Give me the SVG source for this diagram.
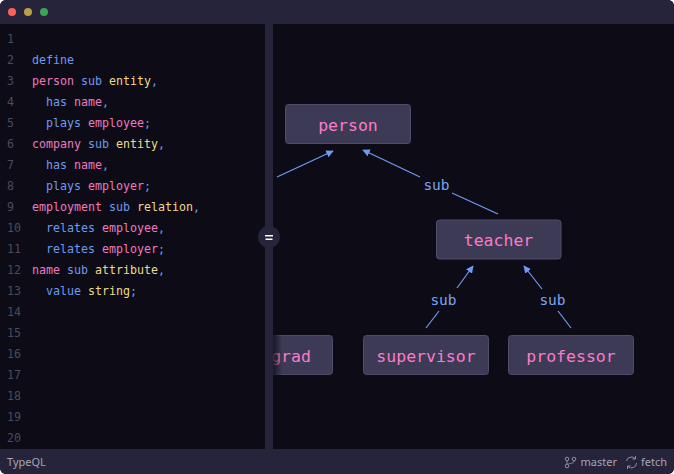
<svg xmlns="http://www.w3.org/2000/svg" width="674" height="474" viewBox="0 0 674 474">
<style>
text{font-family:"DejaVu Sans Mono","Liberation Mono",monospace}
.ln{font-size:11.63px;fill:#4b4a5c}
.code{font-size:11.63px;fill:#7099ee}
.p{fill:#ee78c0}.y{fill:#efd88e}
.box{fill:#3d3a56;stroke:#4f4c68;stroke-width:1}
.nt{font-size:16.5px;fill:#f97cc8;text-anchor:middle}
.el{font-size:14.5px;fill:#7ba3f5;text-anchor:middle}
.edge{stroke:#6f9bf5;stroke-width:1.2;fill:none;marker-end:url(#arr)}
.seg{stroke:#6f9bf5;stroke-width:1.2;fill:none}
.st{font-family:"Noto Sans","Open Sans",sans-serif;font-size:11px;fill:#a6a5b5}
.ic{stroke:#8f8ea0;stroke-width:1;fill:none}
</style>
<defs>
<marker id="arr" viewBox="0 0 10 10" refX="9" refY="5" markerWidth="7.500" markerHeight="7.500" markerUnits="userSpaceOnUse" orient="auto"><path d="M0 0L10 5L0 10Z" fill="#6f9bf5"/></marker>
<linearGradient id="fade" x1="0" x2="1" y1="0" y2="0"><stop offset="0" stop-color="#0e0d17" stop-opacity=".8"/><stop offset="1" stop-color="#0e0d17" stop-opacity="0"/></linearGradient>
<clipPath id="win"><rect x="0" y="0" width="674" height="474" rx="6"/></clipPath>
</defs>
<rect width="674" height="474" fill="#fff"/>
<g clip-path="url(#win)">
<rect width="674" height="474" fill="#0d0c16"/>
<rect width="674" height="24" fill="#25243a"/>
<rect y="449" width="674" height="25" fill="#25243a"/>
<circle cx="12" cy="12" r="4" fill="#ff5f57"/>
<circle cx="28" cy="12" r="4" fill="#bd9e45"/>
<circle cx="44" cy="12" r="4" fill="#3fa355"/>
</g>
<g id="gutter">
<text class="ln" x="7" y="43">1</text><text class="ln" x="7" y="64">2</text><text class="ln" x="7" y="85">3</text><text class="ln" x="7" y="106">4</text><text class="ln" x="7" y="127">5</text><text class="ln" x="7" y="148">6</text><text class="ln" x="7" y="169">7</text><text class="ln" x="7" y="190">8</text><text class="ln" x="7" y="211">9</text><text class="ln" x="7" y="232">10</text><text class="ln" x="7" y="253">11</text><text class="ln" x="7" y="274">12</text><text class="ln" x="7" y="295">13</text><text class="ln" x="7" y="316">14</text><text class="ln" x="7" y="337">15</text><text class="ln" x="7" y="358">16</text><text class="ln" x="7" y="379">17</text><text class="ln" x="7" y="400">18</text><text class="ln" x="7" y="421">19</text><text class="ln" x="7" y="442">20</text>
</g>
<g id="code">
<text class="code" x="32" y="64">define</text>
<text class="code" x="32" y="85"><tspan class="p">person</tspan> sub <tspan class="y">entity</tspan>,</text>
<text class="code" x="46" y="106">has <tspan class="p">name</tspan>,</text>
<text class="code" x="46" y="127">plays <tspan class="p">employee</tspan>;</text>
<text class="code" x="32" y="148"><tspan class="p">company</tspan> sub <tspan class="y">entity</tspan>,</text>
<text class="code" x="46" y="169">has <tspan class="p">name</tspan>,</text>
<text class="code" x="46" y="190">plays <tspan class="p">employer</tspan>;</text>
<text class="code" x="32" y="211"><tspan class="p">employment</tspan> sub <tspan class="y">relation</tspan>,</text>
<text class="code" x="46" y="232">relates <tspan class="p">employee</tspan>,</text>
<text class="code" x="46" y="253">relates <tspan class="p">employer</tspan>;</text>
<text class="code" x="32" y="274"><tspan class="p">name</tspan> sub <tspan class="y">attribute</tspan>,</text>
<text class="code" x="46" y="295">value <tspan class="y">string</tspan>;</text>
</g>
<g id="connectors">
<path class="edge" d="M277 177L333 151"/>
<path class="edge" d="M420 177L363 150"/>
<path class="seg" d="M452 193L498 214"/>
<path class="edge" d="M457 288L473 266"/>
<path class="seg" d="M426 328L439 311"/>
<path class="edge" d="M542 289L524 266"/>
<path class="seg" d="M558 311L571 328"/>
<text class="el" x="436.500" y="190">sub</text>
<text class="el" x="443.500" y="305">sub</text>
<text class="el" x="552.500" y="305">sub</text>
</g>
<g id="node-person"><rect class="box" x="285.500" y="104.500" width="125" height="39" rx="3"/><text class="nt" x="348" y="131">person</text></g>
<g id="node-teacher"><rect class="box" x="436.500" y="220" width="124.500" height="39" rx="3"/><text class="nt" x="498.500" y="246">teacher</text></g>
<g id="node-grad"><path class="box" d="M273 335.500H329.500a3 3 0 0 1 3 3V371.500a3 3 0 0 1-3 3H273Z"/><text class="nt" x="291" y="362">grad</text><rect x="273" y="335" width="9" height="40" fill="url(#fade)"/></g>
<g id="node-supervisor"><rect class="box" x="363.500" y="335.500" width="125" height="39" rx="3"/><text class="nt" x="426" y="362">supervisor</text></g>
<g id="node-professor"><rect class="box" x="508.500" y="335.500" width="125" height="39" rx="3"/><text class="nt" x="571" y="362">professor</text></g>
<g id="separator">
<rect x="265" y="24" width="8" height="425" fill="#25243a"/>
<circle cx="269" cy="237" r="11" fill="#25243a"/>
<rect x="265" y="235" width="8" height="1.500" fill="#fff"/>
<rect x="265.500" y="238.500" width="7" height="1.500" fill="#fff"/>
</g>
<g id="statusbar">
<text class="st" x="7" y="466">TypeQL</text>
<circle class="ic" cx="567" cy="459" r="1.800"/><circle class="ic" cx="567" cy="466" r="1.800"/><circle class="ic" cx="574" cy="459" r="1.800"/>
<path class="ic" d="M567 461V464M574 461C574 464 569 463 568 464.500"/>
<text class="st" x="580.500" y="466">master</text>
<path class="ic" d="M626.500 461A5 5 0 0 1 635 458.500M636.500 463A5 5 0 0 1 628 466.500M635.500 456V459H632.500M627.500 469V466H630.500"/>
<text class="st" x="641" y="466">fetch</text>
</g>
</svg>
